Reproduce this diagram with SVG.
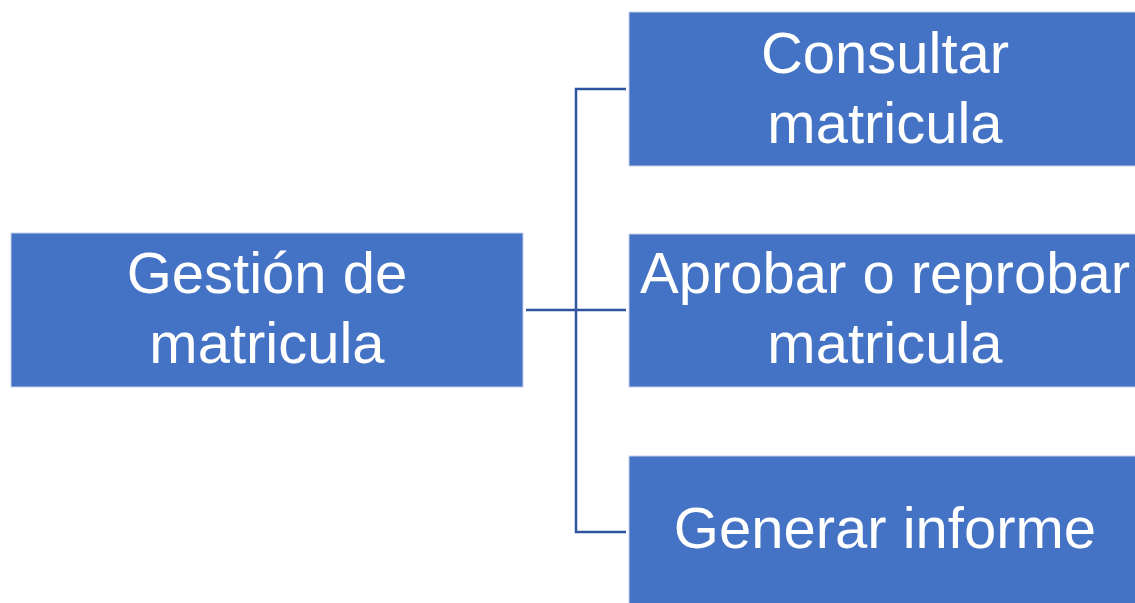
<svg xmlns="http://www.w3.org/2000/svg" width="1135" height="603" viewBox="0 0 1135 603">
<style>
.box{fill:#4472C4;stroke:#C5D2EC;stroke-width:1}
.t{font-family:"Liberation Sans",Arial,sans-serif;font-size:58px;fill:#FFFFFF;text-anchor:middle}
.c{fill:none;stroke:#2F55A0;stroke-width:2.5}
</style>
<rect width="1135" height="603" fill="#FFFFFF"/>
<g id="connectors">
<path class="c" d="M526 310 H626"/>
<path class="c" d="M626 89 H576 V532 H626"/>
</g>
<g id="n-gestion">
<rect class="box" x="11" y="233" width="512" height="154"/>
<text class="t" x="267" y="293">Gestión de</text>
<text class="t" x="267" y="363">matricula</text>
</g>
<g id="n-consultar">
<rect class="box" x="629" y="12" width="510" height="154"/>
<text class="t" x="885" y="73">Consultar</text>
<text class="t" x="885" y="143">matricula</text>
</g>
<g id="n-aprobar">
<rect class="box" x="629" y="234" width="510" height="153"/>
<text class="t" x="885" y="293">Aprobar o reprobar</text>
<text class="t" x="885" y="363">matricula</text>
</g>
<g id="n-generar">
<rect class="box" x="629" y="456" width="510" height="150"/>
<text class="t" x="885" y="548">Generar informe</text>
</g>
</svg>
